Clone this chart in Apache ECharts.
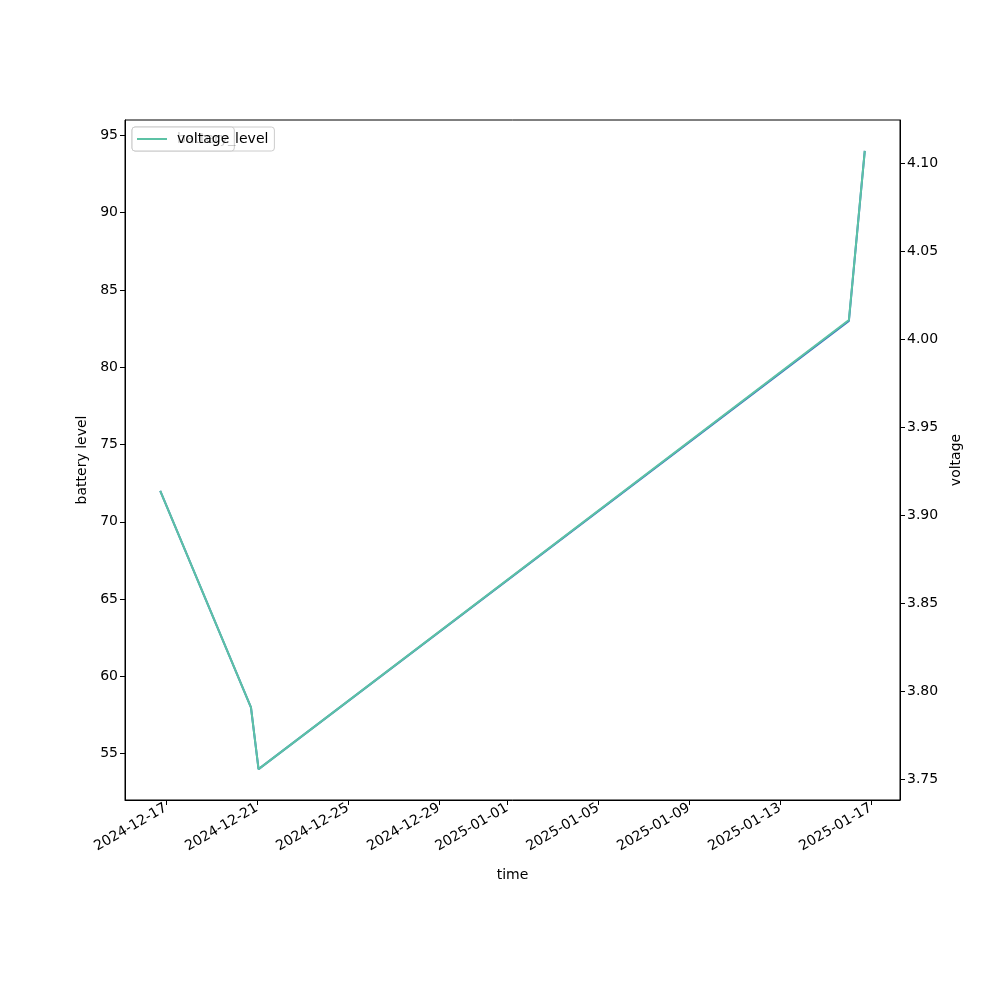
<!DOCTYPE html>
<html>
<head>
<meta charset="utf-8">
<script src="https://cdn.jsdelivr.net/npm/echarts@6/dist/echarts.min.js"></script>
<style>html,body{margin:0;padding:0;background:#fff}#c{width:1000px;height:1000px}</style>
</head>
<body>
<div id="c"></div>
<script>
var times = ["2024-12-16T18:00:00Z","2024-12-20T17:45:00Z","2024-12-21T01:45:00Z","2025-01-16T00:45:00Z","2025-01-16T17:30:00Z"];
var batteryLevel = [72, 58, 54, 83, 94];
var voltage = [3.914, 3.791, 3.756, 4.011, 4.107];
var xTickLabels = ["2024-12-17","2024-12-21","2024-12-25","2024-12-29","2025-01-01","2025-01-05","2025-01-09","2025-01-13","2025-01-17"];
var leftTicks = [55, 60, 65, 70, 75, 80, 85, 90, 95];
var rightTicks = [3.75, 3.80, 3.85, 3.90, 3.95, 4.00, 4.05, 4.10];

function ms(s){ return Date.parse(s); }
var tx = times.map(ms);
function pad(a, b){ var m = (b - a) * 0.05; return [a - m, b + m]; }
var xr = pad(Math.min.apply(null, tx), Math.max.apply(null, tx));
var lr = pad(Math.min.apply(null, batteryLevel), Math.max.apply(null, batteryLevel));
var rr = pad(Math.min.apply(null, voltage), Math.max.apply(null, voltage));
var xTickVals = xTickLabels.map(function(d){ return ms(d + "T00:00:00Z"); });
function fmtDate(v){
  var d = new Date(v);
  var m = d.getUTCMonth() + 1, dd = d.getUTCDate();
  return d.getUTCFullYear() + "-" + (m < 10 ? "0" : "") + m + "-" + (dd < 10 ? "0" : "") + dd;
}
var font = "DejaVu Sans";
var fs = 14;
var chart = echarts.init(document.getElementById('c'), null, {renderer: 'canvas'});
var axisCommon = {
  axisLine: {show: true, onZero: false, lineStyle: {color: '#000', width: 1}},
  axisTick: {show: true, inside: false, length: 5, lineStyle: {color: '#000', width: 1}},
  splitLine: {show: false},
  nameTextStyle: {color: '#000', fontSize: fs, fontFamily: font},
  axisLabel: {color: '#000', fontSize: fs, fontFamily: font, margin: 7}
};
chart.setOption({
  animation: false,
  backgroundColor: '#fff',
  grid: {left: 125, right: 100, top: 120, bottom: 200, show: true, borderColor: '#000', borderWidth: 1, containLabel: false},
  legend: [
    {
      data: ['battery_level'], left: 132, top: 127, orient: 'vertical',
      icon: 'rect', itemWidth: 30, itemHeight: 2,
      padding: [5, 6, 5, 5], borderColor: '#cccccc', borderWidth: 1, borderRadius: 3,
      backgroundColor: 'rgba(255,255,255,0.8)', z: 4,
      textStyle: {color: '#000', fontSize: fs, fontFamily: font, padding: [0, 0, 0, 5]},
      selectedMode: false
    },
    {
      data: ['voltage'], left: 132, top: 127, orient: 'vertical',
      icon: 'rect', itemWidth: 30, itemHeight: 2,
      padding: [5, 5, 5, 5], borderColor: '#cccccc', borderWidth: 1, borderRadius: 3,
      backgroundColor: 'rgba(255,255,255,0.8)', z: 6,
      textStyle: {color: '#000', fontSize: fs, fontFamily: font, padding: [0, 0, 0, 5]},
      selectedMode: false
    }
  ],
  xAxis: Object.assign({}, axisCommon, {
    type: 'value', min: xr[0], max: xr[1],
    name: 'time', nameLocation: 'middle', nameGap: 68,
    axisTick: Object.assign({}, axisCommon.axisTick, {customValues: xTickVals}),
    axisLabel: Object.assign({}, axisCommon.axisLabel, {customValues: xTickVals, rotate: 30, formatter: fmtDate})
  }),
  yAxis: [
    Object.assign({}, axisCommon, {
      type: 'value', min: lr[0], max: lr[1], position: 'left',
      name: 'battery level', nameLocation: 'middle', nameGap: 34, nameRotate: 90,
      axisTick: Object.assign({}, axisCommon.axisTick, {customValues: leftTicks}),
      axisLabel: Object.assign({}, axisCommon.axisLabel, {customValues: leftTicks, formatter: function(v){ return String(Math.round(v)); }})
    }),
    Object.assign({}, axisCommon, {
      type: 'value', min: rr[0], max: rr[1], position: 'right',
      name: 'voltage', nameLocation: 'middle', nameGap: 46, nameRotate: 90,
      axisTick: Object.assign({}, axisCommon.axisTick, {customValues: rightTicks}),
      axisLabel: Object.assign({}, axisCommon.axisLabel, {customValues: rightTicks, formatter: function(v){ return v.toFixed(2); }})
    })
  ],
  series: [
    {
      name: 'battery_level', type: 'line', yAxisIndex: 0,
      data: tx.map(function(t, i){ return [t, batteryLevel[i]]; }),
      showSymbol: false, symbol: 'none', color: '#3a6fc0',
      lineStyle: {width: 2, color: '#3a6fc0'}, z: 2
    },
    {
      name: 'voltage', type: 'line', yAxisIndex: 1,
      data: tx.map(function(t, i){ return [t, voltage[i]]; }),
      showSymbol: false, symbol: 'none', color: '#5cc2a5',
      lineStyle: {width: 2, color: '#5cc2a5'}, z: 3
    }
  ]
});
</script>
</body>
</html>
